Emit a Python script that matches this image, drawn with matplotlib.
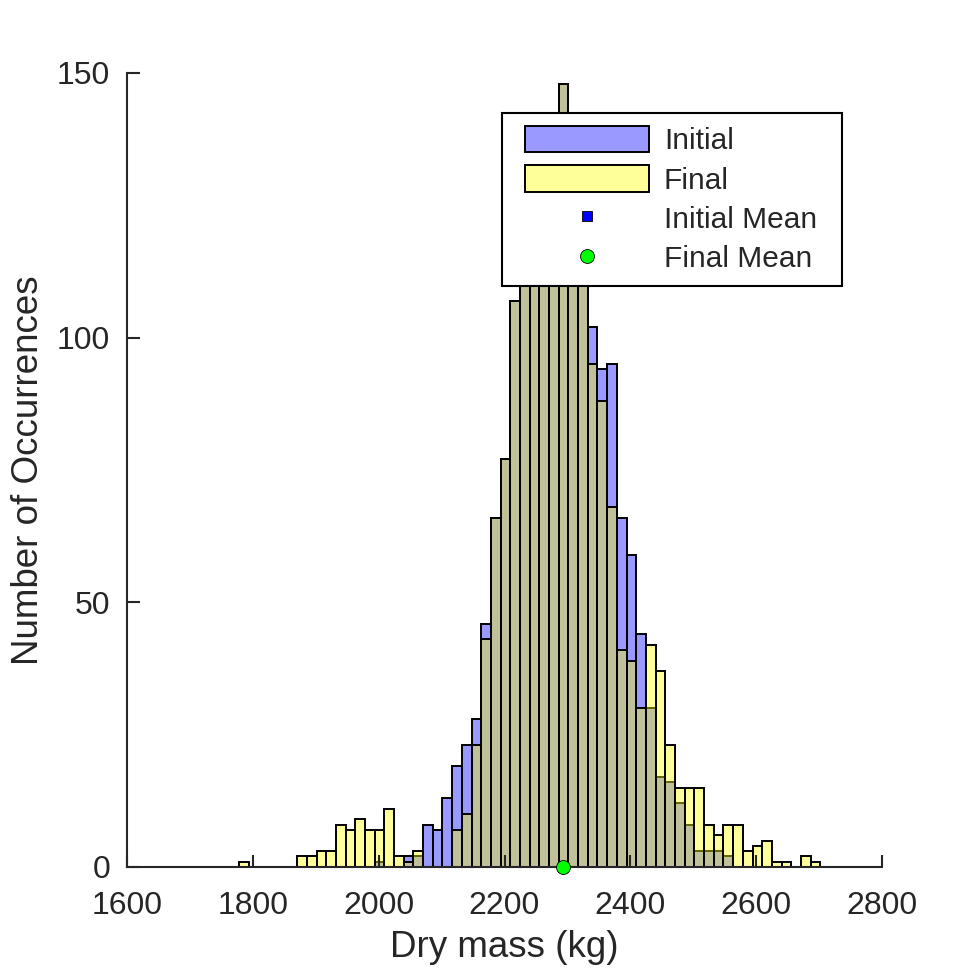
import numpy as np
import matplotlib
matplotlib.use('Agg')
import matplotlib.pyplot as plt
from matplotlib.patches import Patch, Rectangle
from matplotlib.lines import Line2D
from matplotlib.legend_handler import HandlerPatch

plt.rcParams['font.family'] = ['Liberation Sans', 'DejaVu Sans']

# shared bin edges (60 bins)
bin_start = 1778.0
bin_stop = 2702.0
n_bins = 60

# counts per bin
initial_counts = [0, 0, 0, 0, 0, 0, 0, 0, 0, 0,
                  0, 0, 0, 0, 1, 0, 0, 2, 2, 8,
                  7, 13, 19, 23, 28, 46, 66, 77, 107, 120,
                  128, 135, 140, 148, 125, 115, 102, 94, 95, 66,
                  59, 44, 30, 17, 16, 12, 8, 3, 3, 3,
                  2, 0, 0, 0, 0, 0, 0, 0, 0, 0]
final_counts = [1, 0, 0, 0, 0, 0, 2, 2, 3, 3,
                8, 7, 9, 7, 7, 11, 2, 1, 3, 0,
                0, 0, 7, 10, 23, 43, 66, 77, 107, 120,
                128, 135, 140, 148, 125, 115, 95, 88, 68, 41,
                39, 30, 42, 37, 23, 15, 15, 15, 8, 6,
                8, 8, 3, 4, 5, 1, 1, 0, 2, 1]

initial_mean = 2293.0
final_mean = 2293.0

x_ticks = [1600, 1800, 2000, 2200, 2400, 2600, 2800]
y_ticks = [0, 50, 100, 150]

edges = np.linspace(bin_start, bin_stop, n_bins + 1)
width = edges[1] - edges[0]

dark = '#262626'
blue_face = (0, 0, 1, 0.4)
yellow_face = (1, 1, 0, 0.4)
lw = 1.4

fig = plt.figure(figsize=(9.75, 9.75), dpi=100)
ax = fig.add_axes([127/975, 108/975, 755/975, 794/975])

ax.bar(edges[:-1], initial_counts, width=width, align='edge',
       facecolor=blue_face, edgecolor='k', linewidth=lw)
ax.bar(edges[:-1], final_counts, width=width, align='edge',
       facecolor=yellow_face, edgecolor='k', linewidth=lw)

ax.plot(initial_mean, 0, 's', color='b', markeredgecolor='k', markersize=7,
        markeredgewidth=0.6, clip_on=False, zorder=5)
ax.plot(final_mean, 0, 'o', color='#00ff00', markeredgecolor='k', markersize=10,
        markeredgewidth=0.6, clip_on=False, zorder=6)

ax.set_xlim(1600, 2800)
ax.set_ylim(0, 150)
ax.set_xticks(x_ticks)
ax.set_yticks(y_ticks)
for s in ['top', 'right']:
    ax.spines[s].set_visible(False)
for s in ['left', 'bottom']:
    ax.spines[s].set_color(dark)
    ax.spines[s].set_linewidth(1.5)
ax.tick_params(direction='in', length=9, width=1.5, color=dark,
               labelcolor=dark, labelsize=23)
ax.tick_params(axis='x', pad=17)
ax.tick_params(axis='y', pad=12)

ax.set_xlabel('Dry mass (kg)', fontsize=26.5, color=dark, labelpad=7)
ax.set_ylabel('Number of Occurrences', fontsize=26.5, color=dark, labelpad=8)


# legend patch drawn a bit narrower than the handle box
def inset_rect(legend, orig_handle, xdescent, ydescent, width, height, fontsize):
    inset = 7.2
    return Rectangle((-xdescent + inset, -ydescent), width - 2 * inset, height)


handles = [
    Patch(facecolor=blue_face, edgecolor='k', linewidth=lw, label='Initial'),
    Patch(facecolor=yellow_face, edgecolor='k', linewidth=lw, label='Final'),
    Line2D([], [], linestyle='none', marker='s', color='b', markeredgecolor='k',
           markersize=7.5, markeredgewidth=0.6, label='Initial Mean'),
    Line2D([], [], linestyle='none', marker='o', color='#00ff00', markeredgecolor='k',
           markersize=10, markeredgewidth=0.6, label='Final Mean'),
]
leg = ax.legend(handles=handles, loc='upper left', mode='expand',
                bbox_to_anchor=(502/975, 1 - 285/975, 340/975, 172/975),
                bbox_transform=fig.transFigure,
                borderaxespad=0, fontsize=21.5, handlelength=4.85, handleheight=1.0,
                handletextpad=0.15, labelspacing=0.33, borderpad=0.42,
                fancybox=False, framealpha=1, edgecolor='k',
                handler_map={Patch: HandlerPatch(patch_func=inset_rect)})
leg.get_frame().set_linewidth(1.5)
for t in leg.get_texts():
    t.set_color(dark)

fig.savefig('out.png', dpi=100)
